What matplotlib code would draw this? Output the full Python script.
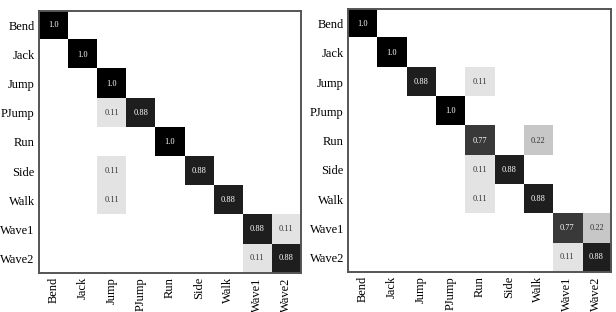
import numpy as np
import matplotlib.pyplot as plt

classes = ['Bend', 'Jack', 'Jump', 'PJump', 'Run', 'Side', 'Walk', 'Wave1', 'Wave2']

# confusion matrices (rows = true class, cols = predicted)
cm_left = np.array([
    [1.0, 0, 0, 0, 0, 0, 0, 0, 0],
    [0, 1.0, 0, 0, 0, 0, 0, 0, 0],
    [0, 0, 1.0, 0, 0, 0, 0, 0, 0],
    [0, 0, 0.11, 0.88, 0, 0, 0, 0, 0],
    [0, 0, 0, 0, 1.0, 0, 0, 0, 0],
    [0, 0, 0.11, 0, 0, 0.88, 0, 0, 0],
    [0, 0, 0.11, 0, 0, 0, 0.88, 0, 0],
    [0, 0, 0, 0, 0, 0, 0, 0.88, 0.11],
    [0, 0, 0, 0, 0, 0, 0, 0.11, 0.88],
])

cm_right = np.array([
    [1.0, 0, 0, 0, 0, 0, 0, 0, 0],
    [0, 1.0, 0, 0, 0, 0, 0, 0, 0],
    [0, 0, 0.88, 0, 0.11, 0, 0, 0, 0],
    [0, 0, 0, 1.0, 0, 0, 0, 0, 0],
    [0, 0, 0, 0, 0.77, 0, 0.22, 0, 0],
    [0, 0, 0, 0, 0.11, 0.88, 0, 0, 0],
    [0, 0, 0, 0, 0.11, 0, 0.88, 0, 0],
    [0, 0, 0, 0, 0, 0, 0, 0.77, 0.22],
    [0, 0, 0, 0, 0, 0, 0, 0.11, 0.88],
])


def draw_cm(ax, cm):
    ax.imshow(cm, cmap='gray_r', vmin=0, vmax=1, aspect='auto', interpolation='nearest')
    for i in range(cm.shape[0]):
        for j in range(cm.shape[1]):
            v = cm[i, j]
            if v > 0:
                ax.text(j, i, str(v), ha='center', va='center', fontsize=6,
                        color='white' if v > 0.5 else '#333333')
    ax.set_xticks(range(len(classes)))
    ax.set_yticks(range(len(classes)))
    ax.set_xticklabels(classes, rotation=90)
    ax.set_yticklabels(classes)
    ax.tick_params(length=0, labelsize=9, pad=3)
    for s in ax.spines.values():
        s.set_color('#555555')
        s.set_linewidth(1.4)


plt.rcParams['font.family'] = ['Liberation Serif', 'DejaVu Serif']

fig = plt.figure(figsize=(6.16, 3.12), dpi=100)
ax1 = fig.add_axes([0.063, 0.125, 0.425, 0.84])
ax2 = fig.add_axes([0.565, 0.128, 0.427, 0.843])

draw_cm(ax1, cm_left)
draw_cm(ax2, cm_right)

fig.savefig('out.png', dpi=100)
